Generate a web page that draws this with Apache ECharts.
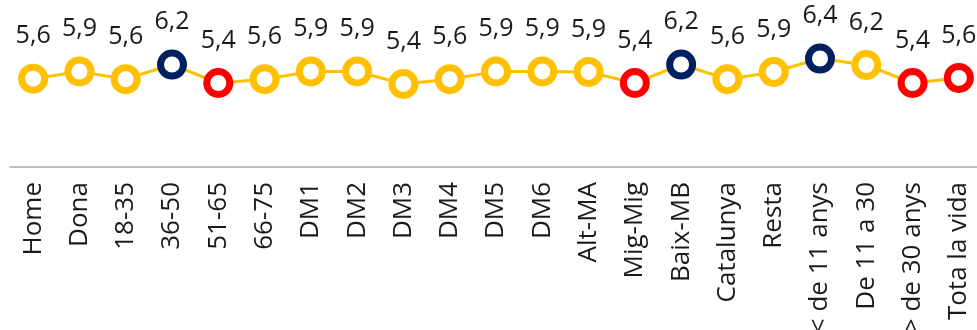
<!DOCTYPE html>
<html>
<head>
<meta charset="utf-8">
<script src="https://cdn.jsdelivr.net/npm/echarts@6/dist/echarts.min.js"></script>
<style>
  html, body { margin: 0; padding: 0; background: #fff; }
  #chart { width: 977px; height: 330px; }
</style>
</head>
<body>
<div id="chart"></div>
<script>
// categories and values
const categories = ['Home', 'Dona', '18-35', '36-50', '51-65', '66-75', 'DM1', 'DM2', 'DM3', 'DM4', 'DM5', 'DM6',
  'Alt-MA', 'Mig-Mig', 'Baix-MB', 'Catalunya', 'Resta', '< de 11 anys', 'De 11 a 30', '> de 30 anys', 'Tota la vida']
const values = [5.58, 5.88, 5.56, 6.17, 5.40, 5.56, 5.88, 5.88, 5.36, 5.56, 5.88, 5.88,
  5.86, 5.40, 6.17, 5.56, 5.86, 6.42, 6.15, 5.40, 5.61]
// 'hi' = above, 'lo' = below, '' = normal
const flags = ['', '', '', 'hi', 'lo', '', '', '', '', '', '', '',
  '', 'lo', 'hi', '', '', 'hi', '', 'lo', 'lo']

const colorFor = { '': '#FFC000', hi: '#002060', lo: '#FF0000' }

const chart = echarts.init(document.getElementById('chart'))

chart.setOption({
  animation: false,
  grid: {
    left: 10,
    right: -5,
    top: 47,
    bottom: 163,
    containLabel: false,
    outerBoundsMode: 'none'
  },
  xAxis: {
    type: 'category',
    data: categories,
    boundaryGap: true,
    axisLine: { lineStyle: { color: '#A6A6A6', width: 1.5 } },
    axisTick: { show: false },
    axisLabel: {
      rotate: 90,
      interval: 0,
      margin: 15,
      color: '#1a1a1a',
      fontSize: 26,
      fontFamily: 'Open Sans'
    }
  },
  yAxis: {
    type: 'value',
    min: 1.9,
    max: 6.9,
    show: false,
    splitLine: { show: false }
  },
  series: [{
    type: 'line',
    data: values.map((v, i) => ({
      value: v,
      itemStyle: { borderColor: colorFor[flags[i]] }
    })),
    lineStyle: { color: '#FFC000', width: 3 },
    symbol: 'circle',
    symbolSize: 23,
    showAllSymbol: true,
    itemStyle: { color: '#fff', borderWidth: 7 },
    label: {
      show: true,
      position: 'top',
      distance: 15,
      color: '#1a1a1a',
      fontSize: 25,
      fontFamily: 'Open Sans',
      formatter: p => p.value.toFixed(1).replace('.', ',')
    }
  }]
})
</script>
</body>
</html>
